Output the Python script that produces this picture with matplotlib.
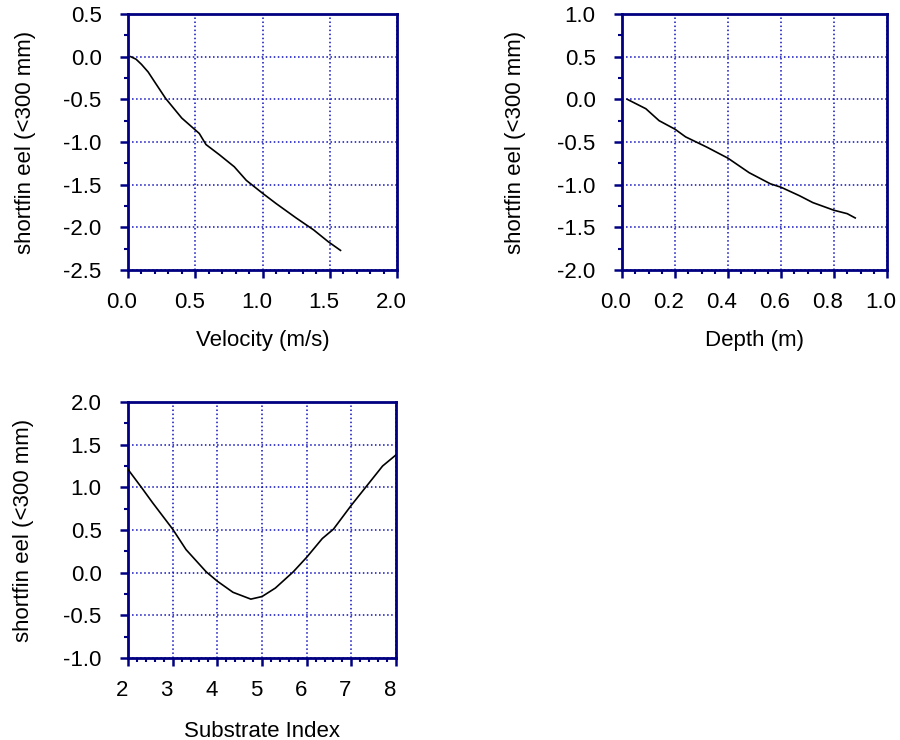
import numpy as np
import matplotlib.pyplot as plt
import matplotlib.transforms as mtransforms
from matplotlib.ticker import MultipleLocator

plt.rcParams['font.family'] = ['Liberation Sans', 'DejaVu Sans']
plt.rcParams['axes.unicode_minus'] = False

# Velocity response
vel_x = [0.02, 0.06, 0.10, 0.15, 0.20, 0.28, 0.40, 0.53, 0.58, 0.68, 0.79, 0.88, 1.00, 1.10, 1.25, 1.38, 1.49, 1.58]
vel_y = [0.0, -0.03, -0.09, -0.18, -0.30, -0.49, -0.72, -0.90, -1.03, -1.15, -1.29, -1.45, -1.60, -1.72, -1.89, -2.03, -2.17, -2.27]

# Depth response
depth_x = [0.02, 0.09, 0.14, 0.20, 0.24, 0.32, 0.40, 0.48, 0.56, 0.60, 0.67, 0.72, 0.80, 0.85, 0.88]
depth_y = [0.0, -0.11, -0.25, -0.35, -0.44, -0.56, -0.69, -0.86, -0.99, -1.03, -1.13, -1.21, -1.30, -1.34, -1.39]

# Substrate response
subs_x = [2.0, 2.3, 2.55, 3.0, 3.3, 3.75, 4.0, 4.35, 4.75, 5.0, 5.3, 5.7, 6.0, 6.35, 6.6, 7.0, 7.35, 7.7, 8.0]
subs_y = [1.21, 1.0, 0.82, 0.51, 0.27, 0.01, -0.1, -0.23, -0.31, -0.28, -0.18, 0.01, 0.18, 0.40, 0.51, 0.79, 1.02, 1.25, 1.38]

ylabel = 'shortfin eel (<300 mm)'
navy = '#000080'
W, H = 900, 740

fig = plt.figure(figsize=(9, 7.4), dpi=100)
shift = mtransforms.ScaledTranslation(-0.06, 0, fig.dpi_scale_trans)


def panel(box, x, y, xlim, xmaj, xmin, ylim, ymaj, xlabel, xfmt, labx, xlpad):
    l, t, r, b = box
    ax = fig.add_axes([l / W, 1 - b / H, (r - l) / W, (b - t) / H])
    ax.plot(x, y, color='black', lw=1.2, zorder=3)
    ax.set_xticks(np.arange(xlim[0], xlim[1] + xmaj / 2, xmaj))
    ax.set_xlim(*xlim)
    ax.set_ylim(*ylim)
    ax.xaxis.set_minor_locator(MultipleLocator(xmin))
    ax.yaxis.set_major_locator(MultipleLocator(ymaj))
    ax.yaxis.set_minor_locator(MultipleLocator(ymaj / 2))
    ax.xaxis.set_major_formatter(xfmt)
    ax.yaxis.set_major_formatter('{x:.1f}')
    ax.grid(True, which='major', color='#1010c0', linestyle=':', lw=1.1, zorder=1)
    for s in ax.spines.values():
        s.set_color(navy)
        s.set_linewidth(2)
    ax.tick_params(which='major', direction='out', length=6, width=1.8, color=navy,
                   labelsize=16, pad=10)
    ax.tick_params(which='minor', direction='out', length=3, width=1.5, color=navy)
    ax.tick_params(axis='y', pad=13)
    # the original's x tick labels sit a little left of their ticks
    for tk in ax.xaxis.get_major_ticks():
        tk.label1.set_transform(tk.label1.get_transform() + shift)
    ax.set_xlabel(xlabel, fontsize=16, labelpad=xlpad)
    ax.set_ylabel(ylabel, fontsize=16)
    ax.yaxis.set_label_coords(labx, 0.5)
    return ax


panel((128, 14, 397, 270), vel_x, vel_y, (0, 2), 0.5, 0.1, (-2.5, 0.5), 0.5,
      'Velocity (m/s)', '{x:.1f}', -0.342, 12)
panel((622, 14, 887, 270), depth_x, depth_y, (0, 1), 0.2, 0.05, (-2.0, 1.0), 0.5,
      'Depth (m)', '{x:.1f}', -0.361, 12)
panel((128, 402, 396, 658), subs_x, subs_y, (2, 8), 1, 0.2, (-1.0, 2.0), 0.5,
      'Substrate Index', '{x:.0f}', -0.35, 14)

fig.savefig('out.png', dpi=100)
